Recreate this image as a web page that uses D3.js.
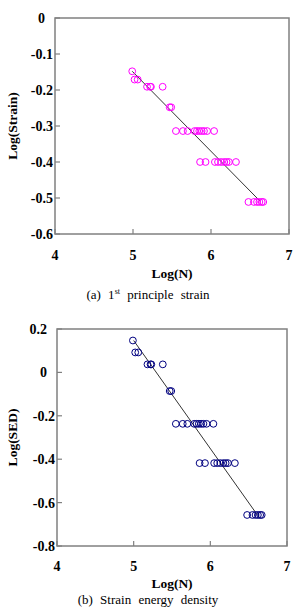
<!DOCTYPE html>
<html><head><meta charset="utf-8">
<script src="https://cdn.jsdelivr.net/npm/d3@7"></script>
<style>
body{margin:0;background:#fff;}
svg{display:block;}
text{font-family:"Liberation Serif","Times New Roman",serif;fill:#000;}
</style></head><body>
<svg id="c" width="293" height="607"></svg>
<script>
// ---- data ----
const logN = [4.99,5.02,5.06,5.18,5.22,5.23,5.38,5.47,5.49,
  5.55,5.64,5.70,5.79,5.82,5.85,5.88,5.91,5.95,6.04,
  5.86,5.93,6.05,6.09,6.13,6.17,6.20,6.23,6.32,
  6.48,6.55,6.59,6.62,6.65,6.67];
const logStrain = [-0.148,-0.171,-0.171,-0.191,-0.191,-0.191,-0.191,-0.248,-0.248,
  -0.314,-0.314,-0.314,-0.314,-0.314,-0.314,-0.314,-0.314,-0.314,-0.314,
  -0.400,-0.400,-0.400,-0.400,-0.400,-0.400,-0.400,-0.400,-0.400,
  -0.511,-0.511,-0.511,-0.511,-0.511,-0.511];
const logSED = [0.147,0.092,0.092,0.037,0.037,0.037,0.037,-0.086,-0.086,
  -0.237,-0.237,-0.237,-0.237,-0.237,-0.237,-0.237,-0.237,-0.237,-0.237,
  -0.418,-0.418,-0.418,-0.418,-0.418,-0.418,-0.418,-0.418,-0.418,
  -0.657,-0.657,-0.657,-0.657,-0.657,-0.657];
const fitStrainX = [4.99,6.63], fitStrainY = [-0.148,-0.509];
const fitSEDX = [5.0,6.62], fitSEDY = [0.147,-0.66];
const xTicks = [4,5,6,7];
const yTicksStrain = [0,-0.1,-0.2,-0.3,-0.4,-0.5,-0.6];
const yTicksSED = [0.2,0,-0.2,-0.4,-0.6,-0.8];

const svg = d3.select("#c");

function panel(o){
  const g = svg.append("g");
  const x = d3.scaleLinear().domain([4,7]).range([o.l,o.r]);
  const y = d3.scaleLinear().domain(o.yDom).range([o.b,o.t]);
  g.append("rect").attr("x",o.l).attr("y",o.t).attr("width",o.r-o.l).attr("height",o.b-o.t)
    .attr("fill","none").attr("stroke","#808080").attr("stroke-width",1.5);
  o.yTicks.forEach(v=>{
    g.append("line").attr("x1",o.l).attr("x2",o.l+5).attr("y1",y(v)).attr("y2",y(v))
      .attr("stroke","#808080").attr("stroke-width",1.2);
    g.append("text").attr("x", v<0 ? o.l-2 : o.l-10).attr("y",y(v)).attr("dy","0.35em")
      .attr("text-anchor","end").attr("font-size",14).attr("font-weight","bold")
      .text(v===0?"0":d3.format(".1f")(v).replace("−","-"));
  });
  xTicks.forEach(v=>{
    g.append("line").attr("x1",x(v)).attr("x2",x(v)).attr("y1",o.b).attr("y2",o.b-5)
      .attr("stroke","#808080").attr("stroke-width",1.2);
    g.append("text").attr("x",x(v)).attr("y",o.xLabY).attr("text-anchor","middle")
      .attr("font-size",14).attr("font-weight","bold").text(v);
  });
  g.append("text").attr("x",(o.l+o.r)/2).attr("y",o.xTitleY).attr("text-anchor","middle")
    .attr("font-size",13.5).attr("font-weight","bold").text("Log(N)");
  g.append("text").attr("transform",`translate(12,${(o.t+o.b)/2}) rotate(-90)`)
    .attr("text-anchor","middle").attr("dominant-baseline","central")
    .attr("font-size",13.5).attr("font-weight","bold").text(o.yTitle);
  g.append("line").attr("x1",x(o.fx[0])).attr("y1",y(o.fy[0])).attr("x2",x(o.fx[1])).attr("y2",y(o.fy[1]))
    .attr("stroke","#333").attr("stroke-width",1);
  g.selectAll("circle.p").data(logN.map((n,i)=>[n,o.vals[i]])).enter().append("circle")
    .attr("cx",d=>x(d[0])).attr("cy",d=>y(d[1])).attr("r",3.4)
    .attr("fill","none").attr("stroke",o.color).attr("stroke-width",1);
  const cap = g.append("text").attr("x",148).attr("y",o.capY).attr("text-anchor","middle")
    .attr("font-size",13).attr("word-spacing","4px");
  o.caption(cap);
}

panel({l:55,r:289,t:18,b:234,yDom:[-0.6,0],yTicks:yTicksStrain,vals:logStrain,
  fx:fitStrainX,fy:fitStrainY,color:"#ff00ff",yTitle:"Log(Strain)",
  xLabY:260,xTitleY:278,capY:299,
  caption:t=>{t.append("tspan").text("(a) 1");
    t.append("tspan").attr("font-size",8).attr("dy",-5).text("st");
    t.append("tspan").attr("dy",5).text(" principle strain");}});

panel({l:57,r:287,t:329,b:546,yDom:[-0.8,0.2],yTicks:yTicksSED,vals:logSED,
  fx:fitSEDX,fy:fitSEDY,color:"#000080",yTitle:"Log(SED)",
  xLabY:571,xTitleY:588,capY:604,
  caption:t=>{t.text("(b) Strain energy density");}});
</script>
</body></html>
